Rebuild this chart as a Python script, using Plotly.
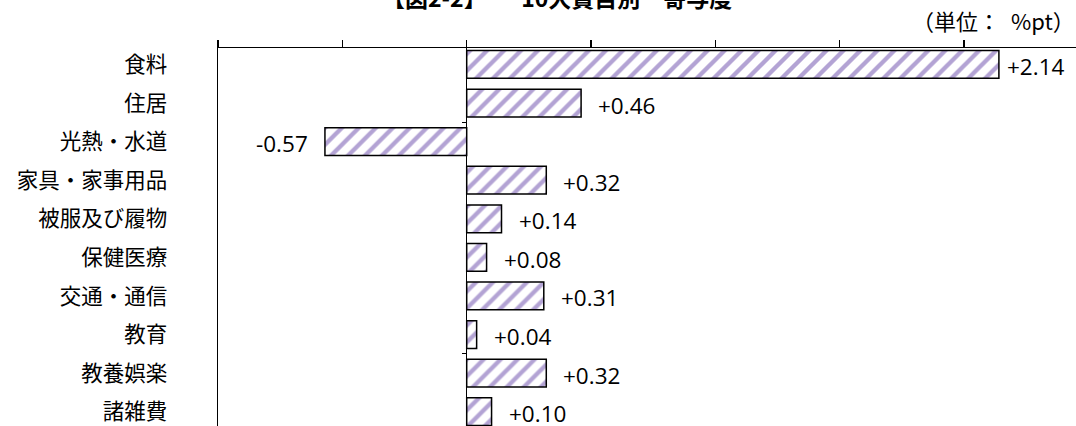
import plotly.graph_objects as go

categories = ["食料", "住居", "光熱・水道", "家具・家事用品", "被服及び履物",
              "保健医療", "交通・通信", "教育", "教養娯楽", "諸雑費"]
values = [2.14, 0.46, -0.57, 0.32, 0.14, 0.08, 0.31, 0.04, 0.32, 0.10]
title_text = "【図2-2】　　10大費目別　寄与度"
unit_text = "（単位：\u2002%pt）"

XMIN, XMAX = -1.0, 2.45
YRANGE = [9.37, -0.427]
W, H = 1076, 426
ML, MT = 218, 48

JP = "Noto Sans CJK JP"
NUM = "Open Sans"
STRIPE = "#b3a3d4"

plot_h = H - MT


def paper_y(px):
    """figure pixel row (from top) -> paper coordinate"""
    return (H - px) / plot_h


fig = go.Figure()
fig.add_trace(go.Bar(
    x=values, y=categories, orientation="h",
    marker=dict(color="white", line=dict(color="black", width=1.5),
                pattern=dict(shape="/", fgcolor=STRIPE, bgcolor="white",
                             size=12, solidity=0.36, fillmode="replace")),
    showlegend=False, hoverinfo="skip",
))
# helper trace so the zero-line tick axis is drawn
fig.add_trace(go.Scatter(x=[None], y=[None], yaxis="y2", showlegend=False,
                         hoverinfo="skip"))

annotations = []
for c, v in zip(categories, values):
    gap = 6 if v > 2 else 15
    annotations.append(dict(
        x=v, y=c, xref="x", yref="y", text=f"{v:+.2f}", showarrow=False,
        xanchor="left" if v >= 0 else "right", xshift=gap if v >= 0 else -gap,
        font=dict(family=NUM, size=22.5, color="black"), yshift=-2,
    ))

annotations.append(dict(
    x=0.5, xref="paper", y=paper_y(-3), yref="paper",
    text=title_text, showarrow=False, xanchor="center", yanchor="middle",
    xshift=-(W - ML) / 2 + (557 - ML),
    font=dict(family=JP, size=23, color="black", weight="bold"),
))
annotations.append(dict(
    x=1, xref="paper", y=paper_y(20), yref="paper",
    text=unit_text, showarrow=False, xanchor="right", yanchor="middle",
    xshift=1, font=dict(family=JP, size=22, color="black"),
))

fig.update_layout(
    width=W, height=H,
    margin=dict(l=ML, r=0, t=MT, b=0, pad=0, autoexpand=False),
    paper_bgcolor="white", plot_bgcolor="white",
    bargap=0.28,
    annotations=annotations,
    xaxis=dict(
        range=[XMIN, XMAX], side="top", dtick=0.5, tick0=0, automargin=False,
        showticklabels=False, ticks="outside", ticklen=7, tickwidth=1.5,
        tickcolor="black", showline=True, linecolor="black", linewidth=1.5,
        showgrid=False, zeroline=True, zerolinecolor="black",
        zerolinewidth=1.5, fixedrange=True,
    ),
    yaxis=dict(
        type="category", range=YRANGE, showline=True, linecolor="black",
        linewidth=1.5, ticks="", showgrid=False, zeroline=False,
        ticklabelstandoff=45, automargin=False,
        tickfont=dict(family=JP, size=21.5, color="black"), fixedrange=True,
    ),
    yaxis2=dict(
        overlaying="y", anchor="free", side="left", automargin=False,
        position=(0 - XMIN) / (XMAX - XMIN), range=YRANGE,
        tickvals=[1.5, 7.5], ticks="outside", ticklen=5, tickwidth=1,
        tickcolor="black", showticklabels=False, showline=False,
        showgrid=False, zeroline=False, fixedrange=True,
    ),
)

fig.write_html(
    "out.html",
    config={"displayModeBar": False, "staticPlot": True},
    post_script="document.body.style.margin='0';"
                "document.body.style.overflow='hidden';",
)
